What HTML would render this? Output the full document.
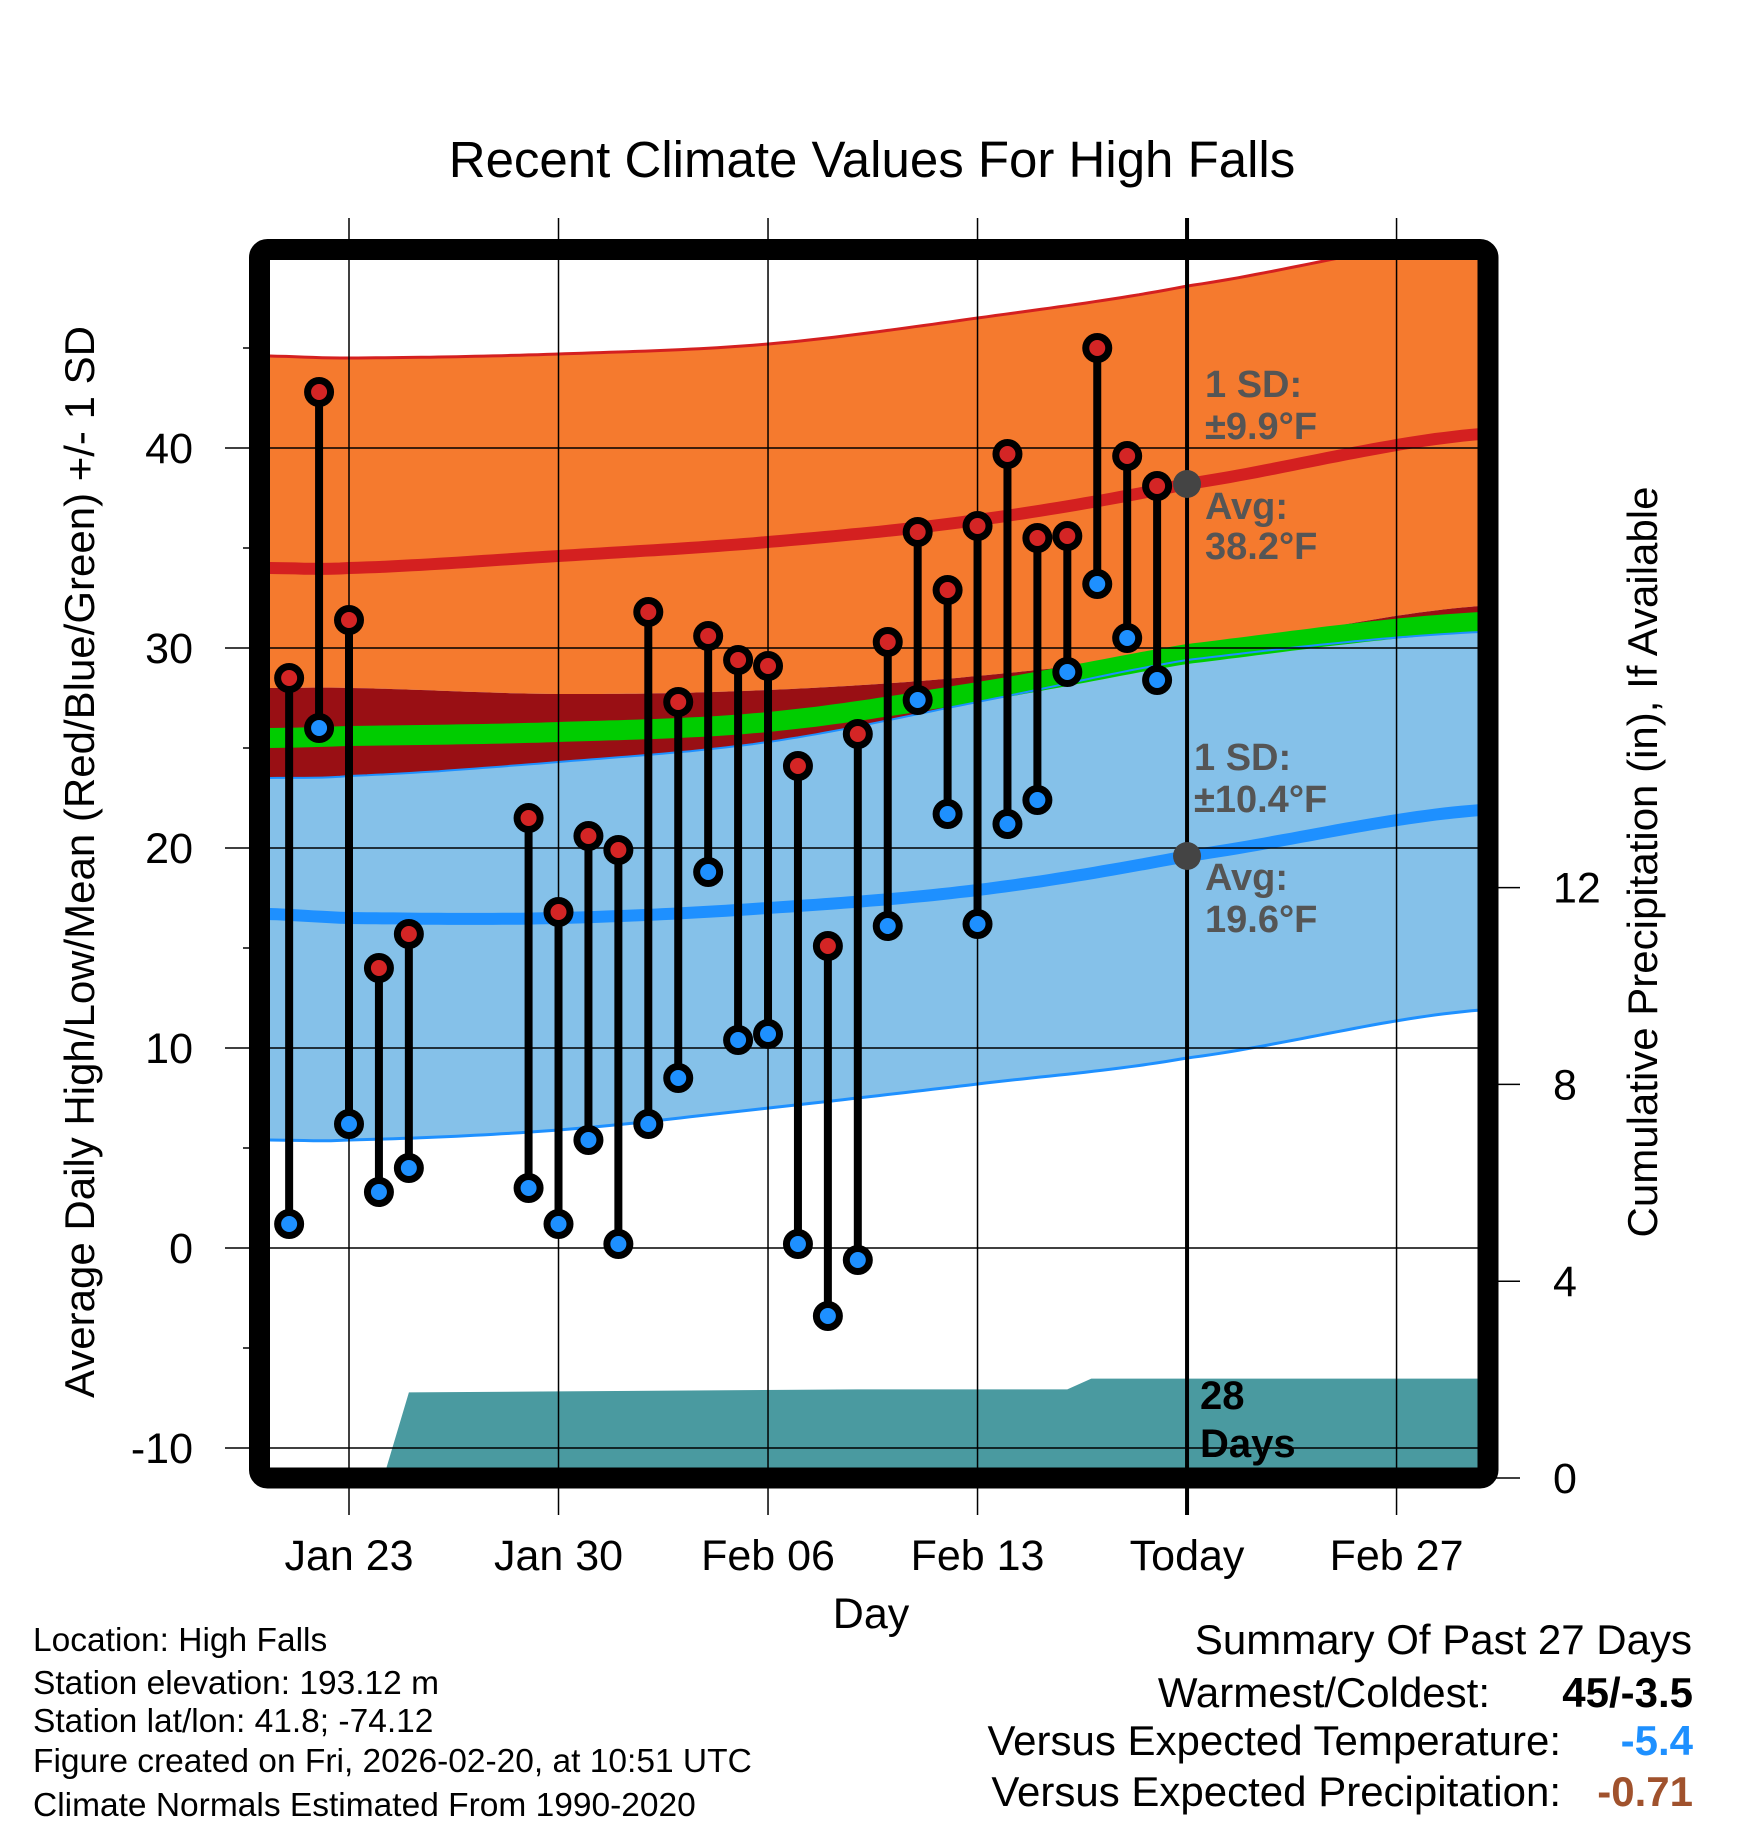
<!DOCTYPE html>
<html><head><meta charset="utf-8"><style>
html,body{margin:0;padding:0;background:#fff}
svg{display:block;font-family:"Liberation Sans",Arial,sans-serif}
</style></head><body>
<svg id="chart" width="1748" height="1828" viewBox="0 0 1748 1828" xmlns="http://www.w3.org/2000/svg">
<defs><clipPath id="plotclip"><rect x="270" y="260" width="1208" height="1208"/></clipPath></defs>
<g id="bg" clip-path="url(#plotclip)"></g>
<g id="grid"></g>
<g id="marks" clip-path="url(#plotclip)"></g>
<rect x="259.5" y="249.5" width="1228.5" height="1228.5" rx="8" fill="none" stroke="#000" stroke-width="21"/>
<g id="labels"></g>
<text x="872" y="177" font-size="51" text-anchor="middle">Recent Climate Values For High Falls</text>
<text x="871" y="1628" font-size="43" text-anchor="middle">Day</text>
<text transform="translate(94,862) rotate(-90)" font-size="42" text-anchor="middle">Average Daily High/Low/Mean (Red/Blue/Green) +/- 1 SD</text>
<text transform="translate(1657,862) rotate(-90)" font-size="42" text-anchor="middle">Cumulative Precipitation (in), If Available</text>
<g font-size="33.5">
<text x="33" y="1651">Location: High Falls</text>
<text x="33" y="1694">Station elevation: 193.12 m</text>
<text x="33" y="1732">Station lat/lon: 41.8; -74.12</text>
<text x="33" y="1772">Figure created on Fri, 2026-02-20, at 10:51 UTC</text>
<text x="33" y="1816">Climate Normals Estimated From 1990-2020</text>
</g>
<g font-size="42" text-anchor="end">
<text x="1692" y="1654">Summary Of Past 27 Days</text>
<text x="1490" y="1707">Warmest/Coldest:</text>
<text x="1693" y="1707" font-weight="bold">45/-3.5</text>
<text x="1561" y="1755">Versus Expected Temperature:</text>
<text x="1693" y="1755" font-weight="bold" fill="#1e90ff">-5.4</text>
<text x="1561" y="1806">Versus Expected Precipitation:</text>
<text x="1693" y="1806" font-weight="bold" fill="#a0522d">-0.71</text>
</g>
</svg>
<script>
// ---- data (days counted from Jan 23) ----
const obsDays = [-2,-1,0,1,2,6,7,8,9,10,11,12,13,14,15,16,17,18,19,20,21,22,23,24,25,26,27];
const highs = [28.5,42.8,31.4,14,15.7,21.5,16.8,20.6,19.9,31.8,27.3,30.6,29.4,29.1,24.1,15.1,25.7,30.3,35.8,32.9,36.1,39.7,35.5,35.6,45,39.6,38.1];
const lows  = [1.2,26,6.2,2.8,4,3,1.2,5.4,0.2,6.2,8.5,18.8,10.4,10.7,0.2,-3.4,-0.6,16.1,27.4,21.7,16.2,21.2,22.4,28.8,33.2,30.5,28.4];
const normDays = [-2.7,0,7,14,21,28,37.8];
const highAvg   = [34.0,34.0,34.6,35.3,36.4,38.2,40.7];
const highUpper = [44.6,44.5,44.7,45.2,46.5,48.1,50.6];
const highLower = [28.0,28.0,27.7,27.9,28.6,29.9,32.1];
const meanAvg   = [25.5,25.6,25.8,26.3,27.8,29.7,31.3];
const lowAvg    = [16.7,16.5,16.5,17.0,17.9,19.6,21.9];
const lowUpper  = [23.5,23.6,24.3,25.3,27.3,29.4,30.8];
const lowLower  = [5.4,5.4,5.9,7.0,8.2,9.5,11.9];
const precipDays = [1.15,2.0,7,17,24,24.8,38];
const precipVals = [0,1.74,1.76,1.8,1.8,2.02,2.02];
const xTickDays = [0,7,14,21,28,35];
const xTickLabels = ["Jan 23","Jan 30","Feb 06","Feb 13","Today","Feb 27"];
const yTicks = [40,30,20,10,0,-10];
const yMinor = [45,35,25,15,5,-5];
const rTicks = [0,4,8,12];

// ---- axes ----
const X = d => 349 + 29.93*d;
const Y = v => 1248 - 20*v;
const YR = p => 1478 - 49.2*p;
const NS = "http://www.w3.org/2000/svg";
function mk(tag, parent, attrs){const e=document.createElementNS(NS,tag);for(const k in attrs)e.setAttribute(k,attrs[k]);parent.appendChild(e);return e;}
// Catmull-Rom smooth interpolation through the normal points
function interp(arr,d){
  const n=normDays.length;
  let i=0; while(i<n-2 && d>normDays[i+1]) i++;
  const t=Math.max(0,Math.min(1,(d-normDays[i])/(normDays[i+1]-normDays[i])));
  const p0=arr[Math.max(0,i-1)],p1=arr[i],p2=arr[i+1],p3=arr[Math.min(n-1,i+2)];
  return 0.5*((2*p1)+(-p0+p2)*t+(2*p0-5*p1+4*p2-p3)*t*t+(-p0+3*p1-3*p2+p3)*t*t*t);
}
const samples=[];for(let d=-2.7;d<=37.8;d+=0.3)samples.push(d);
function linePts(arr,off){return samples.map(d=>X(d).toFixed(1)+","+Y(interp(arr,d)+(off||0)).toFixed(1));}
function band(a,b,offA,offB){return linePts(a,offA).concat(linePts(b,offB).reverse()).join(" ");}

const bg=document.getElementById('bg'), grid=document.getElementById('grid'), marks=document.getElementById('marks'), labels=document.getElementById('labels');

let e;
e=mk('polygon',bg,{points:band(highUpper,highLower),fill:'#f57a2e'});


e=mk('polygon',bg,{points:band(highLower,lowUpper),fill:'#990f14'});


e=mk('polygon',bg,{points:band(lowUpper,lowLower),fill:'#85c1e9'});


e=mk('polygon',bg,{points:band(meanAvg,meanAvg,0.5,-0.5),fill:'#00cc00'});


e=mk('polyline',bg,{points:linePts(highAvg).join(" "),fill:'none',stroke:'#d42020','stroke-width':12});


e=mk('polyline',bg,{points:linePts(lowAvg).join(" "),fill:'none',stroke:'#1e90ff','stroke-width':12});


e=mk('polyline',bg,{points:linePts(highUpper).join(" "),fill:'none',stroke:'#d42020','stroke-width':3});


e=mk('polyline',bg,{points:linePts(lowLower).join(" "),fill:'none',stroke:'#1e90ff','stroke-width':3});


e=mk('polyline',bg,{points:linePts(lowUpper).join(" "),fill:'none',stroke:'#1e90ff','stroke-width':2});


// precip
let pp=precipDays.map((d,i)=>X(d).toFixed(1)+","+YR(precipVals[i]).toFixed(1));
pp.push(X(38).toFixed(1)+","+YR(-1));pp.push(X(precipDays[0]).toFixed(1)+","+YR(-1));
e=mk('polygon',bg,{points:pp.join(" "),fill:'#4a9aa0'});



// grid
xTickDays.forEach((d,i)=>{
  const x=X(d);
  const l=mk('line',grid,{x1:x,x2:x,y1:218,y2:1515,stroke:'#000','stroke-width':i==4?4:1.5});
  
  
  const t=mk('text',labels,{x:x,y:1570,'font-size':43,'text-anchor':'middle'});
  t.textContent=xTickLabels[i];
  
  
});
yTicks.forEach(v=>{
  const y=Y(v);
  const l=mk('line',grid,{x1:225,x2:1478,y1:y,y2:y,stroke:'#000','stroke-width':1.5});
  
  
  const t=mk('text',labels,{x:193,y:y+15,'font-size':43,'text-anchor':'end'});
  t.textContent=v;
  
  
});
yMinor.forEach(v=>{
  const l=mk('line',grid,{x1:243,x2:252,y1:Y(v),y2:Y(v),stroke:'#000','stroke-width':1.5});
  
  
});
rTicks.forEach(p=>{
  const y=YR(p);
  const l=mk('line',grid,{x1:1490,x2:1520,y1:y,y2:y,stroke:'#000','stroke-width':1.5});
  
  
  const t=mk('text',labels,{x:1553,y:y+15,'font-size':43});
  t.textContent=p;
  
  
});

// observations
obsDays.forEach((d,i)=>{
  const x=X(d), yh=Y(highs[i]), yl=Y(lows[i]);
  const s=mk('line',marks,{x1:x,x2:x,y1:yh,y2:yl,stroke:'#000','stroke-width':8});
  
  
  const h=mk('circle',marks,{cx:x,cy:yh,r:11.5,fill:'#d42525',stroke:'#000','stroke-width':7});
  
  
  const lo=mk('circle',marks,{cx:x,cy:yl,r:11.5,fill:'#1e90ff',stroke:'#000','stroke-width':7});
  
  
});

// today markers
[38.2,19.6].forEach(v=>{
  const c=mk('circle',marks,{cx:X(28),cy:Y(v),r:14,fill:'#444'});
  
  
});
const ann=[["1 SD:",1205,397],["±9.9°F",1205,439],["Avg:",1205,519],["38.2°F",1205,559],["1 SD:",1194,770],["±10.4°F",1194,812],["Avg:",1205,890],["19.6°F",1205,932]];
ann.forEach(a=>{
  const t=mk('text',labels,{x:a[1],y:a[2],'font-size':38,'font-weight':'bold',fill:'#555'});
  t.textContent=a[0];
  
  
});
[["28",1200,1409],["Days",1200,1457]].forEach(a=>{
  const t=mk('text',labels,{x:a[1],y:a[2],'font-size':40,'font-weight':'bold',fill:'#000'});
  t.textContent=a[0];
  
  
});
</script>
</body></html>
